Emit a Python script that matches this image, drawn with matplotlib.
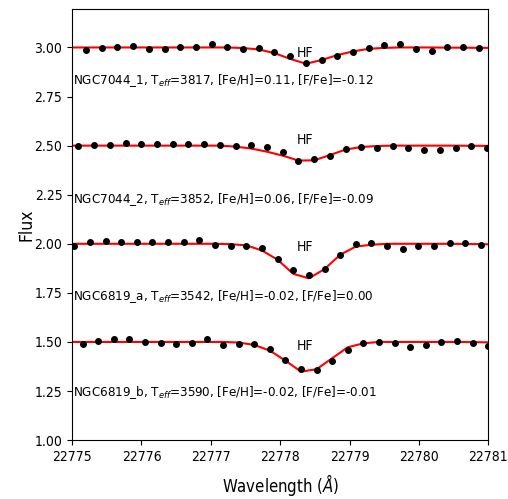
import matplotlib
matplotlib.use('Agg')
import matplotlib.pyplot as plt
import numpy as np

# 元画像は横方向に詰まっているので DejaVu Sans の condensed を使う
plt.rcParams['font.family'] = ['DejaVu Sans']
plt.rcParams['font.stretch'] = 'condensed'
plt.rcParams['mathtext.fontset'] = 'custom'
plt.rcParams['mathtext.rm'] = 'DejaVu Sans:stretch=condensed'
plt.rcParams['mathtext.it'] = 'DejaVu Sans:italic:stretch=condensed'

# 各スペクトルの波長グリッド（開始波長, 刻み）
wl_start = [22775.20, 22775.09, 22775.03, 22775.15]
wl_step = [0.2265, 0.2267, 0.2256, 0.2250]

# 観測スペクトル（オフセット込み）
obs_1 = [2.988, 2.995, 3.002, 3.008, 2.993, 2.993, 3.000, 3.000, 3.017, 3.002,
         2.993, 2.995, 2.978, 2.954, 2.920, 2.936, 2.959, 2.976, 2.995, 3.010,
         3.017, 2.993, 2.983, 3.000, 3.000, 2.995]
obs_2 = [2.497, 2.503, 2.503, 2.514, 2.509, 2.509, 2.509, 2.509, 2.509, 2.503,
         2.497, 2.502, 2.493, 2.468, 2.424, 2.431, 2.449, 2.483, 2.492, 2.488,
         2.497, 2.488, 2.476, 2.476, 2.488, 2.497, 2.488]
obs_3 = [1.990, 2.007, 2.015, 2.007, 2.007, 2.007, 2.007, 2.007, 2.020, 1.995,
         1.990, 1.990, 1.978, 1.925, 1.868, 1.839, 1.873, 1.941, 1.998, 2.003,
         1.990, 1.973, 1.990, 1.990, 2.003, 2.003, 1.993]
obs_4 = [1.490, 1.507, 1.515, 1.515, 1.502, 1.497, 1.490, 1.497, 1.515, 1.483,
         1.490, 1.492, 1.463, 1.408, 1.361, 1.358, 1.405, 1.459, 1.497, 1.502,
         1.497, 1.473, 1.483, 1.502, 1.505, 1.497, 1.481]

# 合成スペクトル（両端に1点ずつ余分に持たせる）
syn_1 = [3.000, 3.000, 3.000, 3.000, 3.000, 3.000, 3.000, 3.000, 3.000, 3.000,
         3.000, 2.997, 2.990, 2.971, 2.942, 2.917, 2.936, 2.961, 2.980, 2.993,
         2.998, 3.000, 3.000, 3.000, 2.999, 2.999, 2.998, 2.998]
syn_2 = [2.500, 2.500, 2.500, 2.500, 2.500, 2.500, 2.500, 2.500, 2.500, 2.500,
         2.500, 2.495, 2.485, 2.469, 2.449, 2.424, 2.425, 2.452, 2.480, 2.493,
         2.498, 2.500, 2.500, 2.500, 2.500, 2.500, 2.499, 2.499, 2.499]
syn_3 = [2.000, 2.000, 2.000, 2.000, 2.000, 2.000, 2.000, 2.000, 2.000, 2.000,
         2.000, 1.998, 1.992, 1.966, 1.919, 1.847, 1.824, 1.871, 1.944, 1.986,
         1.995, 2.000, 2.000, 2.000, 2.000, 2.000, 1.999, 1.998, 1.997]
syn_4 = [1.500, 1.500, 1.500, 1.500, 1.500, 1.500, 1.500, 1.500, 1.500, 1.500,
         1.500, 1.497, 1.485, 1.456, 1.405, 1.349, 1.361, 1.417, 1.473, 1.493,
         1.500, 1.500, 1.500, 1.500, 1.500, 1.500, 1.499, 1.498, 1.497]

observed = [obs_1, obs_2, obs_3, obs_4]
synthetic = [syn_1, syn_2, syn_3, syn_4]

stars = ['NGC7044_1', 'NGC7044_2', 'NGC6819_a', 'NGC6819_b']
teff = [3817, 3852, 3542, 3590]
feh = ['0.11', '0.06', '-0.02', '-0.02']
ffe = ['-0.12', '-0.09', '0.00', '-0.01']
label_y = [2.83, 2.224, 1.732, 1.240]
hf_y = [2.974, 2.529, 1.982, 1.481]
hf_wl = 22778.36

fig = plt.figure(figsize=(5.08, 4.99), dpi=100)
ax = fig.add_axes([0.142, 0.118, 0.819, 0.864])

for i in range(4):
    n = len(observed[i])
    wl_obs = wl_start[i] + wl_step[i] * np.arange(n)
    wl_syn = wl_start[i] + wl_step[i] * np.arange(-1, len(synthetic[i]) - 1)
    ax.plot(wl_syn, synthetic[i], color='red', lw=1.5, zorder=2)
    ax.plot(wl_obs, observed[i], 'o', color='black', ms=4, zorder=3)
    txt = (f'{stars[i]}, T$_{{eff}}$={teff[i]}, '
           f'[Fe/H]={feh[i]}, [F/Fe]={ffe[i]}')
    ax.text(22775.01, label_y[i], txt, fontsize=9.5, va='center', ha='left')
    ax.text(hf_wl, hf_y[i], 'HF', fontsize=10, va='center', ha='center')

ax.set_xlim(22775, 22781)
ax.set_ylim(1.0, 3.196)
ax.set_xticks(np.arange(22775, 22782, 1))
ax.set_yticks(np.arange(1.0, 3.01, 0.25))
ax.xaxis.set_major_formatter(matplotlib.ticker.FormatStrFormatter('%d'))
ax.yaxis.set_major_formatter(matplotlib.ticker.FormatStrFormatter('%.2f'))
ax.tick_params(labelsize=10)
ax.set_xlabel('Wavelength ($Å$)', fontsize=12, labelpad=6)
ax.set_ylabel('Flux', fontsize=12.5, labelpad=-1)

fig.savefig('out.png', dpi=100)
